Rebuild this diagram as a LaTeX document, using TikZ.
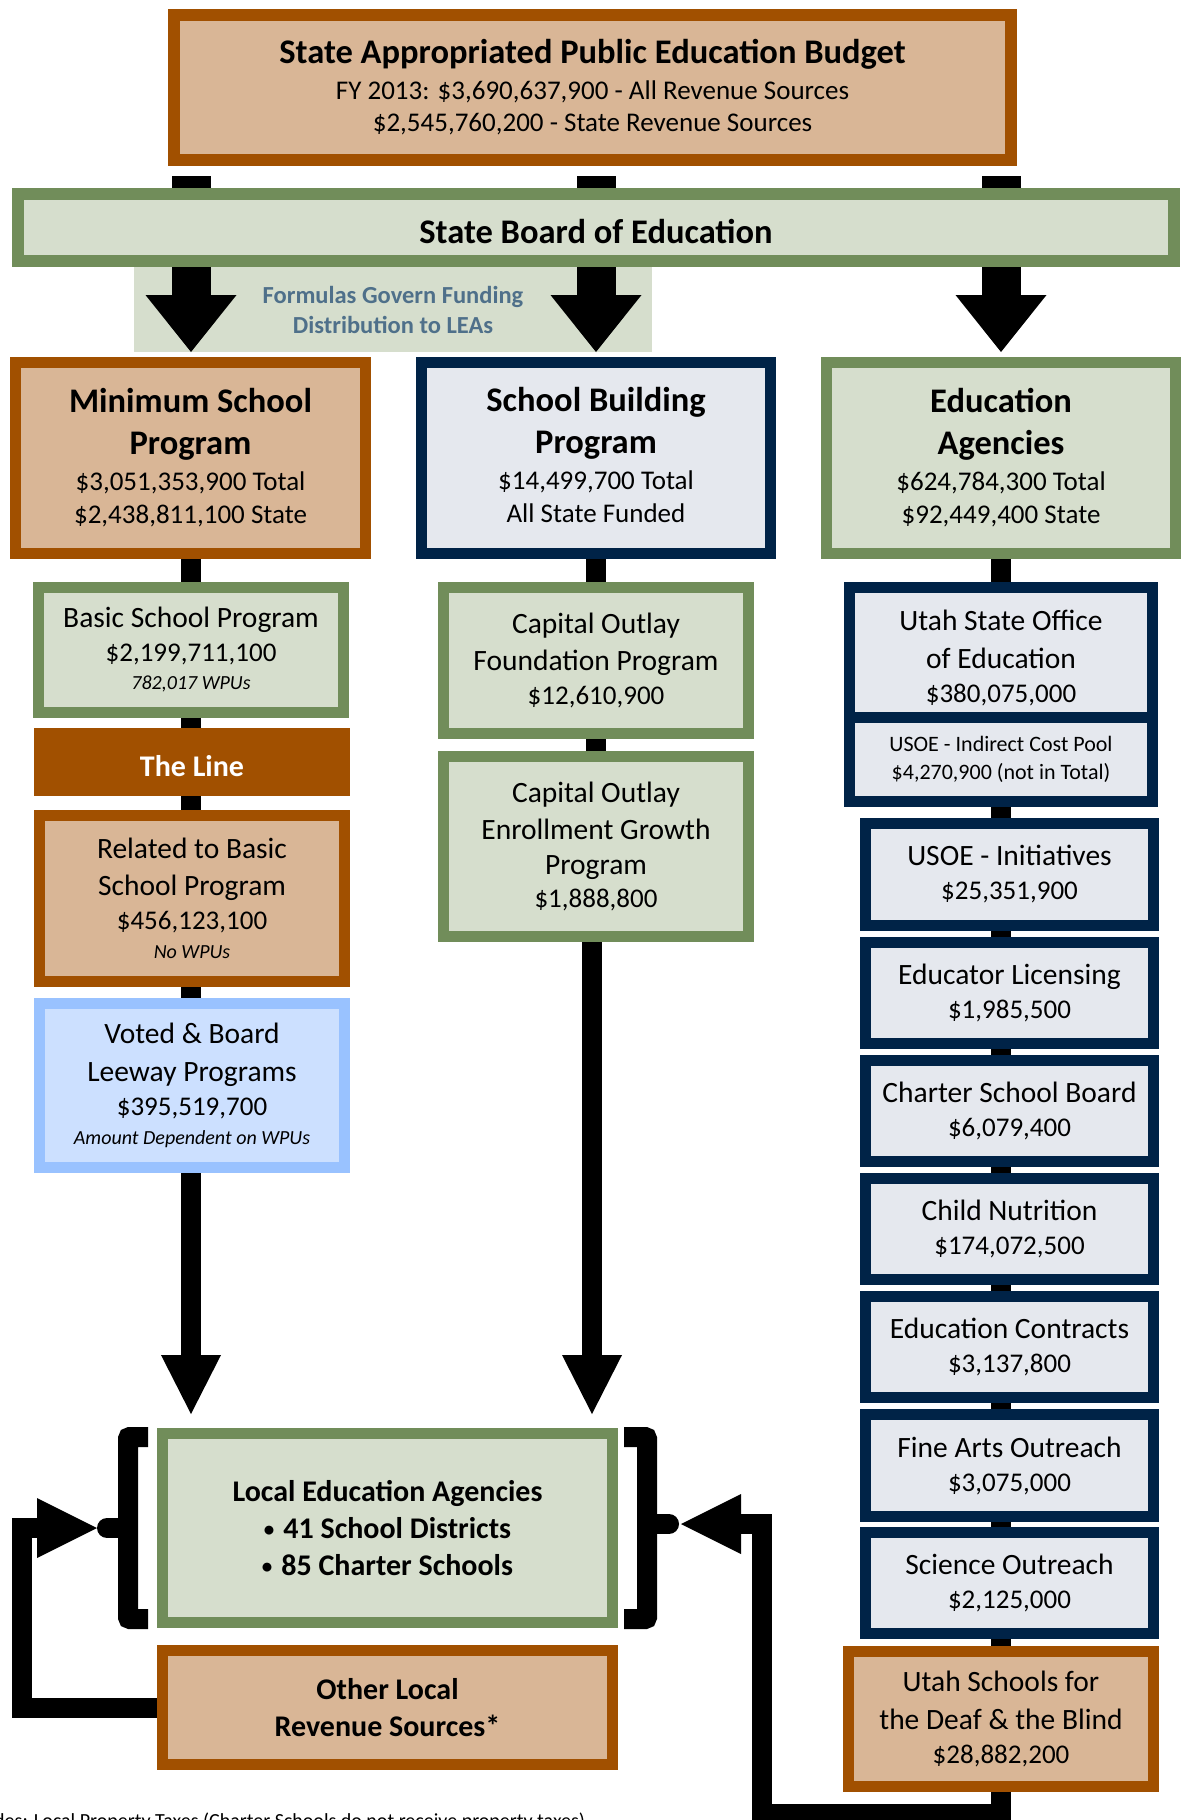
\documentclass[tikz,border=0pt]{standalone}
\usepackage{fontspec}
\setmainfont{Carlito}
\usetikzlibrary{arrows.meta,calc}
\definecolor{brn}{RGB}{161,80,0}
\definecolor{tanf}{RGB}{217,182,150}
\definecolor{grnb}{RGB}{113,141,90}
\definecolor{grnf}{RGB}{214,222,205}
\definecolor{navyb}{RGB}{0,35,71}
\definecolor{gryf}{RGB}{229,232,238}
\definecolor{lbb}{RGB}{153,194,255}
\definecolor{lbf}{RGB}{204,224,255}
\definecolor{slate}{RGB}{79,112,138}
\newcommand{\bxHead}[1]{{\fontsize{34.5}{40}\selectfont\bfseries #1}}
\newcommand{\bxBold}[1]{{\fontsize{30}{36}\selectfont\bfseries #1}}
\newcommand{\bxText}[1]{{\fontsize{29.5}{35}\selectfont #1}}
\newcommand{\bxVal}[1]{{\fontsize{27}{33}\selectfont #1}}
\newcommand{\bxSmall}[1]{{\fontsize{20}{24}\selectfont\itshape #1}}
\newcommand{\bxBullet}{\raisebox{2pt}{\fontsize{21}{24}\selectfont •}\hspace{9pt}}
\newcommand{\mybox}[8]{%
  \pgfmathsetmacro{\mbcx}{(#4+#6)/2}\pgfmathsetmacro{\mbcy}{(#5+#7)/2}%
  \pgfmathsetmacro{\mbww}{#6-#4-#3}\pgfmathsetmacro{\mbhh}{#7-#5-#3}%
  \node[bx, #2, line width=#3pt, minimum width=\mbww pt, minimum height=\mbhh pt] (#1) at (\mbcx,\mbcy) {#8};}
\tikzset{
  bx/.style={inner sep=0pt, align=center, line join=miter, font=\fontsize{27}{34}\selectfont},
  brownbox/.style={draw=brn, fill=tanf},
  greenbox/.style={draw=grnb, fill=grnf},
  navybox/.style={draw=navyb, fill=gryf},
  bluebox/.style={draw=lbb, fill=lbf},
  linebox/.style={draw=none, fill=brn},
  conn/.style={line width=20pt, draw=black},
  wstub/.style={line width=39pt, draw=black},
  bigarrow/.style={line width=39pt, draw=black, -{Triangle[length=57pt,width=91pt,line width=0pt]}},
  downarrow/.style={line width=20pt, draw=black, -{Triangle[length=59pt,width=60pt,line width=0pt]}},
  fbarrow/.style={line width=20pt, draw=black, line join=miter, -{Triangle[length=60pt,width=60pt,line width=0pt]}},
  brk/.style={line width=20pt, draw=black, rounded corners=2pt},
  nub/.style={line width=20pt, draw=black, line cap=round},
}
\begin{document}
\begin{tikzpicture}[x=1pt,y=-1pt]
\useasboundingbox (0,0) rectangle (1182,1820);
\clip (0,0) rectangle (1182,1820);
\fill[white] (0,0) rectangle (1182,1820);

% formulas background
\node[fill=grnf, minimum width=518pt, minimum height=85pt, inner sep=0pt, align=center,
  text=slate, font=\fontsize{24.5}{30}\selectfont\bfseries] (fbg) at (393,309.5)
  {Formulas Govern Funding\\Distribution to LEAs};

% top level
\mybox{top}{brownbox, font=\fontsize{27}{32}\selectfont}{12}{168}{9}{1017}{166}{\bxHead{State Appropriated Public Education Budget}\\[4pt]\bxVal{FY 2013: \$3,690,637,900 - All Revenue Sources}\\\bxVal{\$2,545,760,200 - State Revenue Sources}}
\mybox{sbe}{greenbox}{12}{12}{188}{1180}{267}{}
\node[bx] (sbeT) at (596,231) {\bxHead{State Board of Education}};

% second level
\mybox{msp}{brownbox, font=\fontsize{27}{33}\selectfont}{11}{10}{357}{371}{559}{\bxHead{Minimum School}\\[9pt]\bxHead{Program}\\[3pt]\bxVal{\$3,051,353,900 Total}\\\bxVal{\$2,438,811,100 State}}
\mybox{sbp}{navybox}{11}{416}{357}{776}{559}{}
\node[bx, font=\fontsize{27}{33}\selectfont] (sbpT) at (596,454.5) {\bxHead{School Building}\\[9pt]\bxHead{Program}\\[3pt]\bxVal{\$14,499,700 Total}\\\bxVal{All State Funded}};
\mybox{ea}{greenbox, font=\fontsize{27}{33}\selectfont}{11}{821}{357}{1181}{559}{\bxHead{Education}\\[9pt]\bxHead{Agencies}\\[3pt]\bxVal{\$624,784,300 Total}\\\bxVal{\$92,449,400 State}}

% left column
\mybox{bsp}{greenbox}{11}{33}{582}{349}{718}{\bxText{Basic School Program}\\\bxVal{\$2,199,711,100}\\[-6pt]\bxSmall{782,017 WPUs}}
\mybox{line}{linebox}{0}{34}{728}{350}{796}{}
\node[bx, text=white] (lineT) at (192,766) {\bxBold{The Line}};
\mybox{rel}{brownbox}{11}{34}{810}{350}{987}{\bxText{Related to Basic}\\[3pt]\bxText{School Program}\\\bxVal{\$456,123,100}\\[-5pt]\bxSmall{No WPUs}}
\mybox{voted}{bluebox}{11}{34}{998}{350}{1173}{\bxText{Voted \& Board}\\[4pt]\bxText{Leeway Programs}\\\bxVal{\$395,519,700}\\[-5pt]\bxSmall{Amount Dependent on WPUs}}

% middle column
\mybox{cof}{greenbox}{11}{438}{582}{754}{739}{\bxText{Capital Outlay}\\[3pt]\bxText{Foundation Program}\\\bxVal{\$12,610,900}}
\mybox{coeg}{greenbox, font=\fontsize{27}{35}\selectfont}{11}{438}{751}{754}{942}{\bxText{Capital Outlay}\\[2pt]\bxText{Enrollment Growth}\\\bxText{Program}\\[-2pt]\bxVal{\$1,888,800}}

% right column
\mybox{usoe}{navybox}{11}{844}{582}{1158}{807}{}
\fill[navyb] (844,712) rectangle (1158,723);
\node[bx] (usoeA) at (1001,658) {\bxText{Utah State Office}\\[4pt]\bxText{of Education}\\\bxVal{\$380,075,000}};
\node[bx, font=\fontsize{22}{28}\selectfont] (usoeB) at (1001,759) {USOE - Indirect Cost Pool\\\$4,270,900 (not in Total)};
\mybox{init}{navybox}{11}{860}{818}{1159}{931}{\bxText{USOE - Initiatives}\\\bxVal{\$25,351,900}}
\mybox{elic}{navybox}{11}{860}{937}{1159}{1049}{\bxText{Educator Licensing}\\\bxVal{\$1,985,500}}
\mybox{csb}{navybox}{11}{860}{1055}{1159}{1167}{\bxText{Charter School Board}\\\bxVal{\$6,079,400}}
\mybox{cn}{navybox}{11}{860}{1173}{1159}{1285}{\bxText{Child Nutrition}\\\bxVal{\$174,072,500}}
\mybox{ec}{navybox}{11}{860}{1291}{1159}{1403}{\bxText{Education Contracts}\\\bxVal{\$3,137,800}}
\mybox{fa}{navybox}{11}{860}{1409}{1159}{1522}{\bxText{Fine Arts Outreach}\\\bxVal{\$3,075,000}}
\mybox{so}{navybox}{11}{860}{1527}{1159}{1639}{\bxText{Science Outreach}\\\bxVal{\$2,125,000}}
\mybox{usdb}{brownbox}{11}{843}{1646}{1159}{1792}{\bxText{Utah Schools for}\\[4pt]\bxText{the Deaf \& the Blind}\\\bxVal{\$28,882,200}}

% bottom
\mybox{lea}{greenbox, font=\fontsize{27}{37}\selectfont}{11}{157}{1428}{618}{1628}{\bxBold{Local Education Agencies}\\\bxBold{\bxBullet 41 School Districts}\\\bxBold{\bxBullet 85 Charter Schools}}
\mybox{ol}{brownbox, font=\fontsize{27}{37}\selectfont}{11}{157}{1645}{618}{1770}{\bxBold{Other Local}\\\bxBold{Revenue Sources*}}

% reference coordinates
\coordinate (cL) at (191,0);
\coordinate (cM) at (596,0);
\coordinate (cM2) at (592,0);
\coordinate (cR) at (1001,0);
\coordinate (lx) at (22,0);
\coordinate (lnub) at (97,1528);
\coordinate (rnub) at (681,1524);
\coordinate (rbot) at (762,1814);

% top stubs
\draw[wstub] ($(top.south -| cL)+(0,10)$) -- (sbe.north -| cL);
\draw[wstub] ($(top.south -| cM)+(0,10)$) -- (sbe.north -| cM);
\draw[wstub] ($(top.south -| cR)+(0,10)$) -- (sbe.north -| cR);
% big arrows
\draw[bigarrow] (sbe.south -| cL) -- ($(msp.north -| cL)+(0,-5)$);
\draw[bigarrow] (sbe.south -| cM) -- ($(sbp.north -| cM)+(0,-5)$);
\draw[bigarrow] (sbe.south -| cR) -- ($(ea.north -| cR)+(0,-5)$);

% left column connectors
\draw[conn] (msp.south -| cL) -- (bsp.north -| cL);
\draw[conn] (bsp.south -| cL) -- (line.north -| cL);
\draw[conn] (line.south -| cL) -- (rel.north -| cL);
\draw[conn] (rel.south -| cL) -- (voted.north -| cL);
\draw[downarrow] (voted.south -| cL) -- ($(lea.north -| cL)+(0,-14)$);

% middle column connectors
\draw[conn] (sbp.south -| cM) -- (cof.north -| cM);
\draw[conn] (cof.south -| cM) -- (coeg.north -| cM);
\draw[downarrow] (coeg.south -| cM2) -- ($(lea.north -| cM2)+(0,-14)$);

% right column connectors
\draw[conn] (ea.south -| cR) -- (usoe.north -| cR);
\draw[conn] (usoe.south -| cR) -- (init.north -| cR);
\draw[conn] (init.south -| cR) -- (elic.north -| cR);
\draw[conn] (elic.south -| cR) -- (csb.north -| cR);
\draw[conn] (csb.south -| cR) -- (cn.north -| cR);
\draw[conn] (cn.south -| cR) -- (ec.north -| cR);
\draw[conn] (ec.south -| cR) -- (fa.north -| cR);
\draw[conn] (fa.south -| cR) -- (so.north -| cR);
\draw[conn] (so.south -| cR) -- (usdb.north -| cR);

% brackets and nubs
\draw[brk] (148,1437) -- (128,1437) -- (128,1619) -- (148,1619);
\draw[brk] (624,1437) -- (647,1437) -- (647,1619) -- (624,1619);
\draw[nub] (118,1528) -- (107,1528);
\draw[nub] (657,1524) -- (669,1524);

% feedback arrows
\draw[fbarrow] (ol.west) -- (ol.west -| lx) -- (lx |- lnub) -- (lnub);
\draw[fbarrow] (usdb.south -| cR) -- (cR |- rbot) -- (rbot) -- (rbot |- rnub) -- (rnub);

% footnote (cut by the page edge, as in the original)
\node[anchor=base west, inner sep=0pt, font=\fontsize{20}{24}\selectfont] (fn) at (-55,1827)
  {*Includes: Local Property Taxes (Charter Schools do not receive property taxes)};
\end{tikzpicture}
\end{document}
